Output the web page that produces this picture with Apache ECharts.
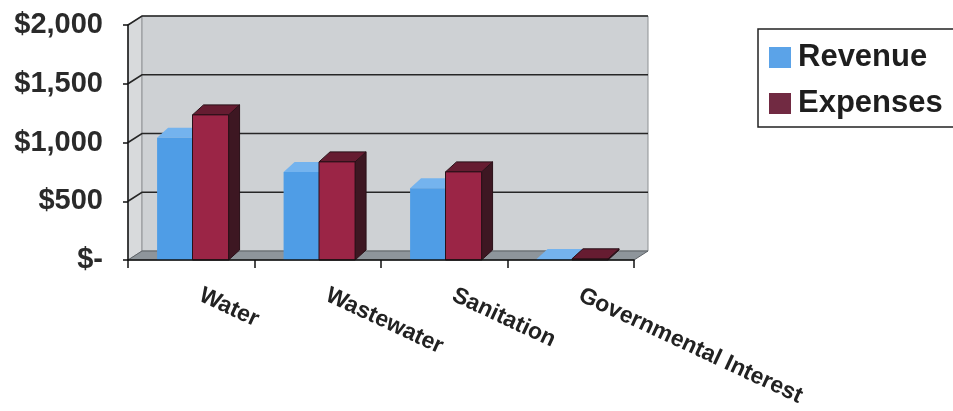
<!DOCTYPE html>
<html>
<head>
<meta charset="utf-8">
<script src="https://cdn.jsdelivr.net/npm/echarts@6/dist/echarts.min.js"></script>
<style>
  html, body { margin: 0; padding: 0; background: #fff; }
  #chart { width: 953px; height: 411px; }
</style>
</head>
<body>
<div id="chart"></div>
<script>
// data
var categories = ['Water', 'Wastewater', 'Sanitation', 'Governmental Interest'];
var revenue = [1040, 750, 610, 8];
var expenses = [1235, 835, 750, 10];
var yTicks = [0, 500, 1000, 1500, 2000];
var yTickLabels = ['$-', '$500', '$1,000', '$1,500', '$2,000'];

var FONT = '"Liberation Sans", Arial, sans-serif';
// depth of the back wall and of the columns
var WX = 14, WY = 9;
var BX = 11, BY = 10;

var blue = { front: '#4f9de6', top: '#74b3ee', side: '#3a7fc4', stroke: null };
var red = { front: '#9b2546', top: '#661c31', side: '#3d1722', stroke: '#2a1018' };

function wallRender(params, api) {
  var cs = params.coordSys;
  var x = cs.x, y = cs.y, w = cs.width, h = cs.height;
  var kids = [];
  // side wall
  kids.push({
    type: 'polygon',
    shape: { points: [[x, y], [x + WX, y - WY], [x + WX, y + h - WY], [x, y + h]] },
    style: { fill: '#d8dadc', stroke: '#9a9da0', lineWidth: 1 }
  });
  // back wall
  kids.push({
    type: 'rect',
    shape: { x: x + WX, y: y - WY, width: w, height: h },
    style: { fill: '#ced1d4', stroke: '#8e9194', lineWidth: 1 }
  });
  // floor
  kids.push({
    type: 'polygon',
    shape: { points: [[x, y + h], [x + w, y + h], [x + w + WX, y + h - WY], [x + WX, y + h - WY]] },
    style: { fill: '#8e959b', stroke: '#5f6469', lineWidth: 1 }
  });
  // grid lines on side wall + back wall
  yTicks.forEach(function (t) {
    if (t === 0) return;
    var yy = api.coord([0, t])[1];
    kids.push({
      type: 'polyline',
      shape: { points: [[x, yy], [x + WX, yy - WY], [x + w + WX, yy - WY]] },
      style: { stroke: '#262626', lineWidth: 1.6, fill: null }
    });
  });
  return { type: 'group', children: kids };
}

function barRender(c, fromFrac, toFrac) {
  return function (params, api) {
    var idx = api.value(0), v = api.value(1);
    var top = api.coord([idx, v]);
    var base = api.coord([idx, 0]);
    var bw = api.size([1, 0])[0];
    var x0 = top[0] + bw * fromFrac, x1 = top[0] + bw * toFrac;
    var y0 = base[1], y1 = top[1];
    var st = c.stroke ? { stroke: c.stroke, lineWidth: 1 } : {};
    return {
      type: 'group',
      children: [
        { type: 'polygon', shape: { points: [[x1, y1], [x1 + BX, y1 - BY], [x1 + BX, y0 - BY], [x1, y0]] },
          style: Object.assign({ fill: c.side }, st) },
        { type: 'polygon', shape: { points: [[x0, y1], [x1, y1], [x1 + BX, y1 - BY], [x0 + BX, y1 - BY]] },
          style: Object.assign({ fill: c.top }, st) },
        { type: 'rect', shape: { x: x0, y: y1, width: x1 - x0, height: y0 - y1 },
          style: Object.assign({ fill: c.front }, st) }
      ]
    };
  };
}

var myChart = echarts.init(document.getElementById('chart'));
var option = {
  animation: false,
  backgroundColor: '#ffffff',
  grid: { left: 128, right: 319, top: 25, bottom: 151, containLabel: false },
  legend: {
    orient: 'vertical',
    left: 758,
    top: 29,
    padding: [13, 30, 8, 11],
    itemWidth: 22,
    itemHeight: 21,
    itemGap: 15,
    icon: 'rect',
    borderColor: '#222',
    borderWidth: 1.5,
    backgroundColor: '#fff',
    data: ['Revenue', 'Expenses'],
    textStyle: {
      fontFamily: FONT, fontSize: 31, fontWeight: 'bold', color: '#1e1e1e',
      padding: [0, 0, 0, 2]
    }
  },
  xAxis: {
    type: 'category',
    data: categories,
    boundaryGap: true,
    z: 10,
    axisLine: { lineStyle: { color: '#111', width: 1.5 } },
    axisTick: { show: true, length: 8, lineStyle: { color: '#111', width: 1.5 } },
    axisLabel: {
      interval: 0,
      rotate: -25,
      margin: 30,
      padding: [0, 0, 0, 10],
      fontFamily: FONT, fontSize: 23, fontWeight: 'bold', color: '#222'
    },
    splitLine: { show: false }
  },
  yAxis: {
    type: 'value',
    min: 0,
    max: 2000,
    interval: 500,
    z: 10,
    axisLine: { show: true, lineStyle: { color: '#111', width: 1.5 } },
    axisTick: { show: true, length: 5, lineStyle: { color: '#111', width: 1.5 } },
    axisLabel: {
      margin: 25,
      fontFamily: FONT, fontSize: 29, fontWeight: 'bold', color: '#2a2a2a',
      formatter: function (v) {
        var i = yTicks.indexOf(v);
        return i >= 0 ? yTickLabels[i] : '';
      }
    },
    splitLine: { show: false }
  },
  series: [{
    name: 'wall',
    type: 'custom',
    z: 0,
    silent: true,
    renderItem: wallRender,
    data: [[0, 0]]
  }, {
    name: 'Revenue',
    type: 'custom',
    z: 2,
    itemStyle: { color: '#5ba3e8' },
    renderItem: barRender(blue, -0.27, 0.01),
    data: revenue.map(function (v, i) { return [i, v]; })
  }, {
    name: 'Expenses',
    type: 'custom',
    z: 3,
    itemStyle: { color: '#712a42' },
    renderItem: barRender(red, 0.01, 0.295),
    data: expenses.map(function (v, i) { return [i, v]; })
  }]
};
myChart.setOption(option);
</script>
</body>
</html>
